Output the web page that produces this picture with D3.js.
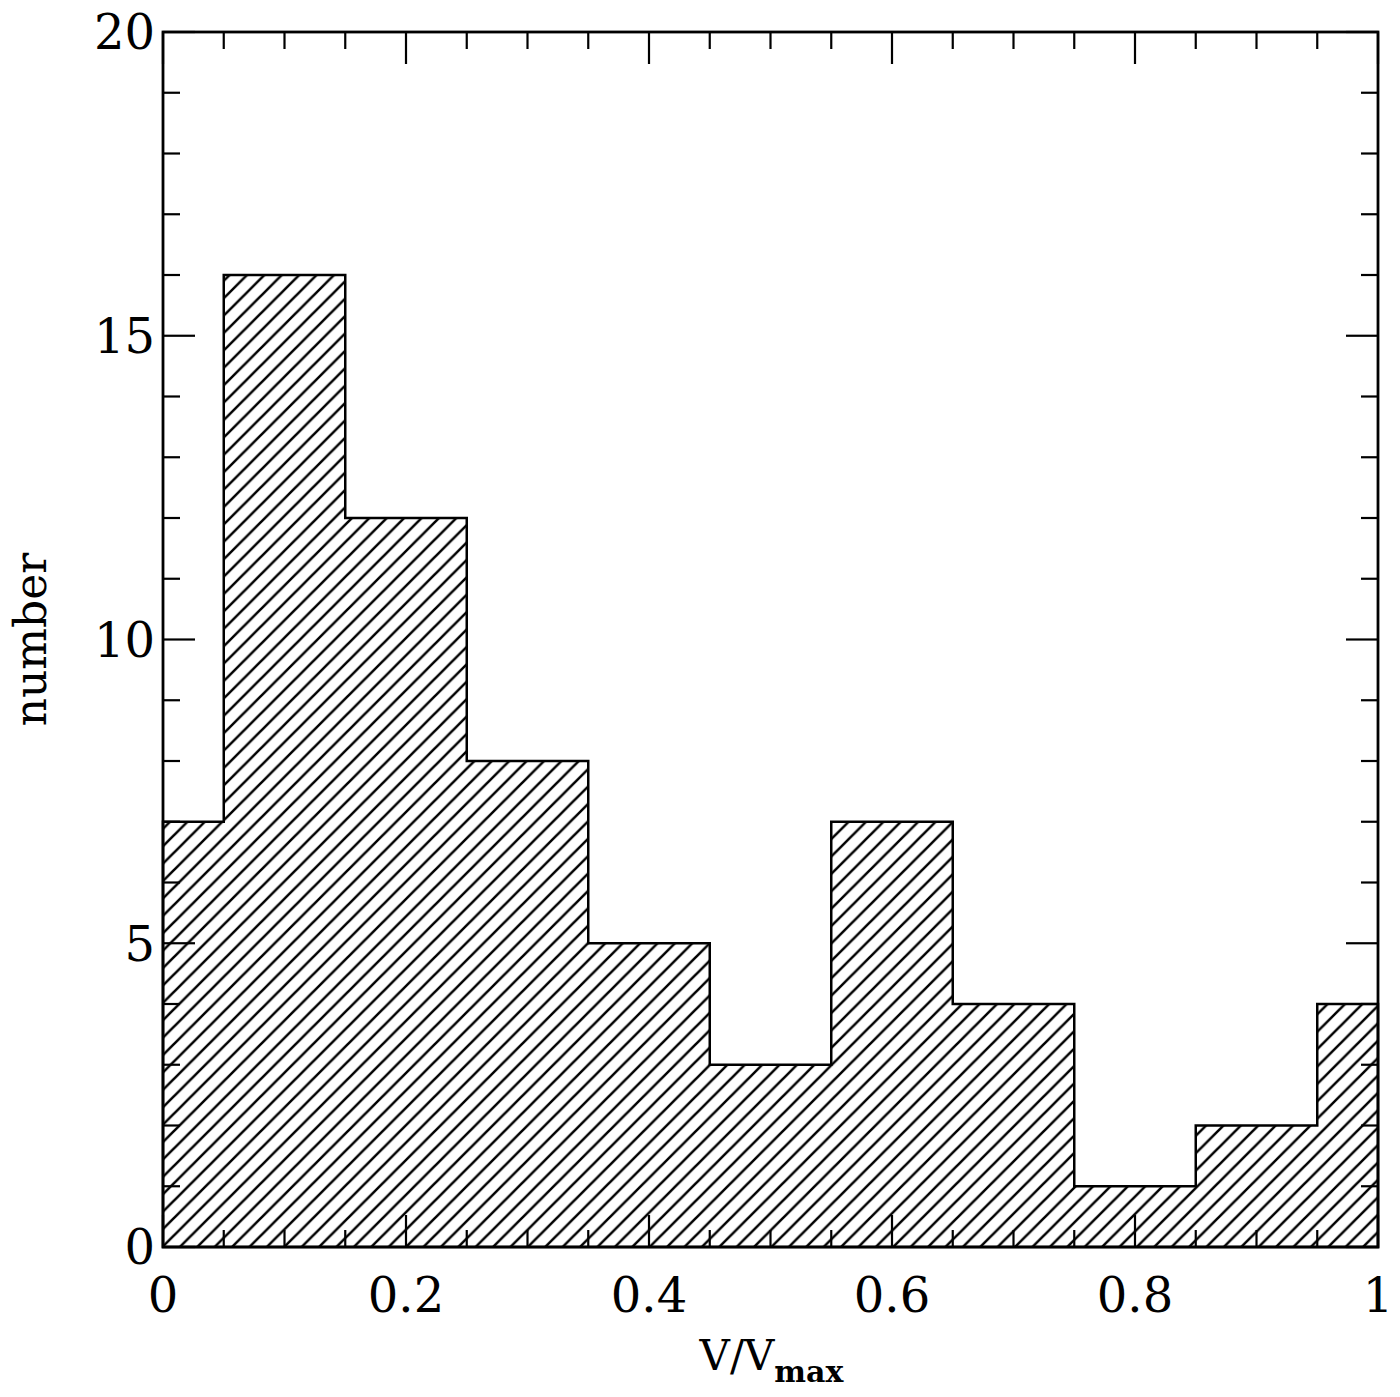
<!DOCTYPE html>
<html>
<head>
<meta charset="utf-8">
<script src="https://cdn.jsdelivr.net/npm/d3@7"></script>
<style>
  body { margin: 0; background: #fff; }
  text { font-family: "DejaVu Serif", "Liberation Serif", serif; fill: #000; }
</style>
</head>
<body>
<svg width="1400" height="1397"></svg>
<script>
// histogram of V/Vmax
var binEdges = [0, 0.05, 0.15, 0.25, 0.35, 0.45, 0.55, 0.65, 0.75, 0.85, 0.95, 1.0];
var counts   = [7, 16, 12, 8, 5, 3, 7, 4, 1, 2, 4];
var xTicks = [0, 0.2, 0.4, 0.6, 0.8, 1];
var yTicks = [0, 5, 10, 15, 20];

var svg = d3.select("svg"),
    margin = {left: 163, right: 22, top: 32, bottom: 150},
    width = +svg.attr("width"),
    height = +svg.attr("height");

var x = d3.scaleLinear().domain([0, 1]).range([margin.left, width - margin.right]);
var y = d3.scaleLinear().domain([0, 20]).range([height - margin.bottom, margin.top]);

// hatch fill
var defs = svg.append("defs");
var pat = defs.append("pattern")
    .attr("id", "hatch")
    .attr("patternUnits", "userSpaceOnUse")
    .attr("width", 17.4)
    .attr("height", 17.4);
pat.append("path")
    .attr("d", "M-4,4L4,-4M0,17.4L17.4,0M13.4,21.4L21.4,13.4")
    .attr("stroke", "#000")
    .attr("stroke-width", 2.5);

// build step outline
var pts = [[binEdges[0], 0]];
counts.forEach(function(c, i) {
  pts.push([binEdges[i], c]);
  pts.push([binEdges[i + 1], c]);
});
pts.push([binEdges[binEdges.length - 1], 0]);

var line = d3.line()
    .x(function(d) { return x(d[0]); })
    .y(function(d) { return y(d[1]); });

svg.append("path")
    .attr("d", line(pts) + "Z")
    .attr("fill", "url(#hatch)")
    .attr("stroke", "#000")
    .attr("stroke-width", 2.5)
    .attr("stroke-linejoin", "miter");

// ticks on all four sides
var x0 = x.range()[0], x1 = x.range()[1], y0 = y.range()[0], y1 = y.range()[1];
var ticks = svg.append("g").attr("stroke", "#000").attr("stroke-width", 2.2);
var xMinor = d3.range(0, 21).map(function(i) { return i * 0.05; });
xMinor.forEach(function(v) {
  var major = Math.abs(v / 0.2 - Math.round(v / 0.2)) < 1e-6;
  var len = major ? 32 : 17;
  ticks.append("line").attr("x1", x(v)).attr("x2", x(v)).attr("y1", y0).attr("y2", y0 - len);
  ticks.append("line").attr("x1", x(v)).attr("x2", x(v)).attr("y1", y1).attr("y2", y1 + len);
});
d3.range(0, 21).forEach(function(v) {
  var len = v % 5 === 0 ? 32 : 17;
  ticks.append("line").attr("y1", y(v)).attr("y2", y(v)).attr("x1", x0).attr("x2", x0 + len);
  ticks.append("line").attr("y1", y(v)).attr("y2", y(v)).attr("x1", x1).attr("x2", x1 - len);
});

// frame
svg.append("rect")
    .attr("x", x0).attr("y", y1)
    .attr("width", x1 - x0).attr("height", y0 - y1)
    .attr("fill", "none")
    .attr("stroke", "#000")
    .attr("stroke-width", 2.8);

// tick labels
svg.append("g").selectAll("text")
    .data(xTicks)
    .enter().append("text")
    .attr("x", function(d) { return x(d); })
    .attr("y", y0 + 65)
    .attr("text-anchor", "middle")
    .attr("font-size", 48)
    .text(function(d) { return d === 0 || d === 1 ? String(d) : d.toFixed(1); });

svg.append("g").selectAll("text")
    .data(yTicks)
    .enter().append("text")
    .attr("x", x0 - 8)
    .attr("y", function(d) { return y(d); })
    .attr("dy", "0.36em")
    .attr("text-anchor", "end")
    .attr("font-size", 48)
    .text(function(d) { return d; });

// axis titles
var xl = svg.append("text")
    .attr("x", (x0 + x1) / 2 + 1)
    .attr("y", 1370)
    .attr("text-anchor", "middle")
    .attr("font-size", 42);
xl.append("tspan").text("V/V");
xl.append("tspan").attr("dy", 12).attr("font-size", 30).attr("font-weight", "bold").text("max");

svg.append("text")
    .attr("transform", "translate(46," + ((y0 + y1) / 2) + ") rotate(-90)")
    .attr("text-anchor", "middle")
    .attr("font-size", 44)
    .text("number");
</script>
</body>
</html>
